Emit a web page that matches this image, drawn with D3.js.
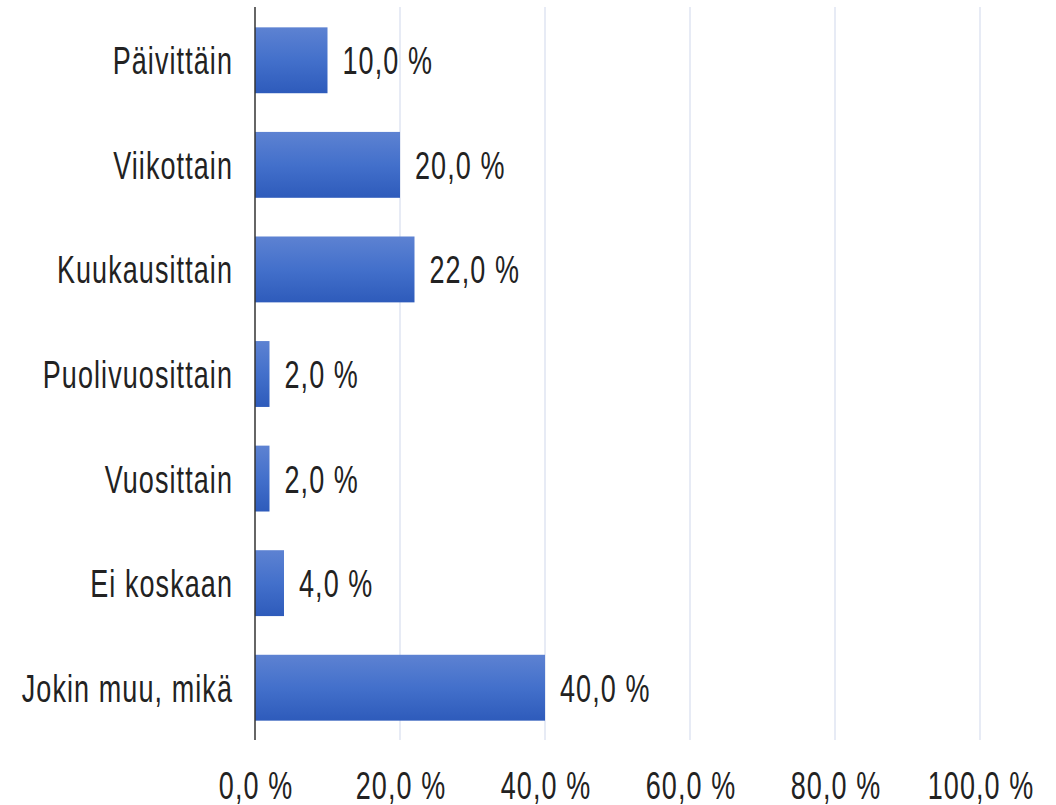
<!DOCTYPE html>
<html>
<head>
<meta charset="utf-8">
<script src="https://cdn.jsdelivr.net/npm/d3@7"></script>
<style>
  body { margin: 0; background: #fff; }
  text { font-family: "Liberation Sans", Arial, sans-serif; fill: #222; }
</style>
</head>
<body>
<div id="chart"></div>
<script>
var categories = ["Päivittäin", "Viikottain", "Kuukausittain", "Puolivuosittain", "Vuosittain", "Ei koskaan", "Jokin muu, mikä"];
var values = [10, 20, 22, 2, 2, 4, 40];
var ticks = [0, 20, 40, 60, 80, 100];

var W = 1056, H = 805;
var sx = 0.9, sy = 1.3, fs = 30;

var svg = d3.select("#chart").append("svg")
    .attr("width", W)
    .attr("height", H);

var x = d3.scaleLinear().domain([0, 100]).range([255, 980]);
var y = d3.scaleBand().domain(categories).range([8, 740])
    .paddingInner(0.37).paddingOuter(0.185);

var fmt = function(v) { return v.toFixed(1).replace(".", ",") + " %"; };

var grad = svg.append("defs").append("linearGradient")
    .attr("id", "barGrad").attr("x1", 0).attr("y1", 0).attr("x2", 0).attr("y2", 1);
grad.append("stop").attr("offset", "0%").attr("stop-color", "#5d82d2");
grad.append("stop").attr("offset", "50%").attr("stop-color", "#4370cb");
grad.append("stop").attr("offset", "100%").attr("stop-color", "#2e5bbb");

// gridlines
svg.selectAll(".grid")
  .data(ticks.slice(1))
  .enter().append("line")
  .attr("class", "grid")
  .attr("x1", function(d) { return x(d); })
  .attr("x2", function(d) { return x(d); })
  .attr("y1", 7)
  .attr("y2", 740)
  .attr("stroke", "#dfe5f2")
  .attr("stroke-width", 1.5);

// bars
svg.selectAll(".bar")
  .data(values)
  .enter().append("rect")
  .attr("class", "bar")
  .attr("x", x(0))
  .attr("y", function(d, i) { return y(categories[i]); })
  .attr("width", function(d) { return x(d) - x(0); })
  .attr("height", y.bandwidth())
  .attr("fill", "url(#barGrad)");

// axis line
svg.append("line")
  .attr("x1", x(0)).attr("x2", x(0))
  .attr("y1", 7).attr("y2", 740)
  .attr("stroke", "#333")
  .attr("stroke-width", 1.5);

function stretchedText(sel, px, py, anchor, str) {
  sel.append("g")
    .attr("transform", "translate(" + px + "," + py + ") scale(" + sx + "," + sy + ")")
    .append("text")
    .attr("text-anchor", anchor)
    .attr("font-size", fs)
    .attr("letter-spacing", 1.2)
    .text(str);
}

// category labels
categories.forEach(function(c) {
  stretchedText(svg, 233, y(c) + y.bandwidth() / 2 + 14, "end", c);
});

// value labels
values.forEach(function(v, i) {
  stretchedText(svg, x(v) + 15, y(categories[i]) + y.bandwidth() / 2 + 14, "start", fmt(v));
});

// x tick labels
ticks.forEach(function(t) {
  stretchedText(svg, x(t) + 1, 799, "middle", fmt(t));
});
</script>
</body>
</html>
